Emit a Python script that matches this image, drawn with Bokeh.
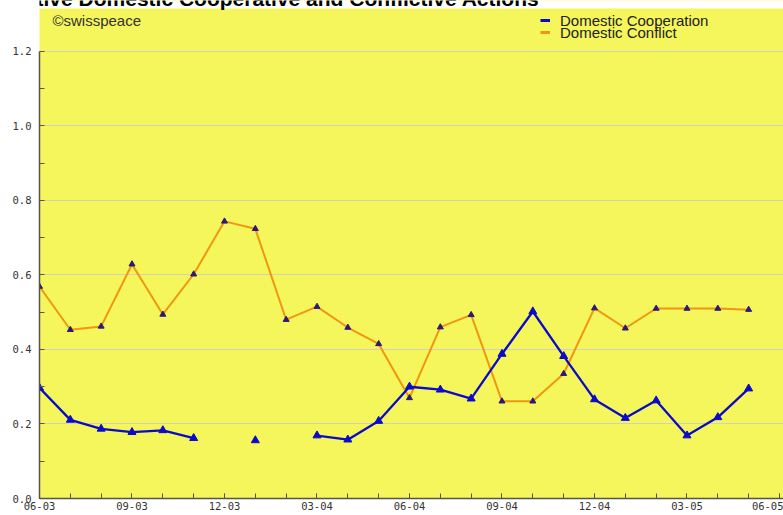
import numpy as np
from bokeh.plotting import figure
from bokeh.models import (Range1d, FixedTicker, Label, Legend, LegendItem,
                          ColumnDataSource, BoxAnnotation)
from bokeh.embed import file_html
from bokeh.resources import INLINE

# ---------------- data ----------------
title_text = "Relative Domestic Cooperative and Conflictive Actions"
months = ["06-03", "07-03", "08-03", "09-03", "10-03", "11-03", "12-03",
          "01-04", "02-04", "03-04", "04-04", "05-04", "06-04", "07-04",
          "08-04", "09-04", "10-04", "11-04", "12-04", "01-05", "02-05",
          "03-05", "04-05", "05-05"]
cooperation = [0.297, 0.211, 0.187, 0.178, 0.183, 0.162, None, 0.156, None,
               0.169, 0.158, 0.208, 0.300, 0.292, 0.268, 0.388, 0.502, 0.382,
               0.266, 0.216, 0.263, 0.169, 0.218, 0.295]
conflict = [0.569, 0.453, 0.462, 0.629, 0.494, 0.602, 0.744, 0.724, 0.480,
            0.515, 0.459, 0.415, 0.270, 0.460, 0.493, 0.261, 0.261, 0.335,
            0.511, 0.457, 0.510, 0.510, 0.510, 0.507]
tick_labels = ["06-03", "09-03", "12-03", "03-04", "06-04", "09-04",
               "12-04", "03-05", "06-05"]
y_ticks = [0.0, 0.2, 0.4, 0.6, 0.8, 1.0, 1.2]
y_minor = [0.1, 0.3, 0.5, 0.7, 0.9, 1.1]
series_names = ["Domestic Cooperation", "Domestic Conflict"]
credit = "\u00a9swisspeace"

# ---------------- styles ----------------
YELLOW = "#f5f55c"
BLUE = "#0a0ac8"
ORANGE = "#f0960f"
MARK2 = "#2c1878"
AXIS = "#55554a"
LABEL = "#333333"

x = np.arange(len(months))
coop = np.array([np.nan if v is None else v for v in cooperation], dtype=float)
conf = np.array(conflict, dtype=float)
src = ColumnDataSource(dict(x=x, coop=coop, conf=conf, m=months))

# frame runs to the top edge; a white strip restores the white band above
# the yellow area, so the cut-off title can be drawn there
p = figure(width=783, height=515, output_backend="svg", toolbar_location=None,
           x_range=Range1d(0, 24.13), y_range=Range1d(0, 1.3369),
           min_border_left=39, min_border_right=0, min_border_top=0,
           min_border_bottom=17)
p.background_fill_color = YELLOW
p.border_fill_color = "white"
p.outline_line_color = None

# axes
q_idx = list(range(0, 3 * len(tick_labels), 3))
p.xaxis.ticker = FixedTicker(ticks=q_idx, minor_ticks=list(range(0, 25)))
p.xaxis.major_label_overrides = {i: t for i, t in zip(q_idx, tick_labels)}
p.yaxis.ticker = FixedTicker(ticks=y_ticks, minor_ticks=y_minor)
p.yaxis.major_label_overrides = {v: f"{v:.1f}" for v in y_ticks}
p.yaxis.bounds = (0, 1.2)
for ax in (p.xaxis[0], p.yaxis[0]):
    ax.axis_line_color = AXIS
    ax.axis_line_width = 1.5
    ax.major_tick_line_color = AXIS
    ax.minor_tick_line_color = AXIS
    ax.major_tick_in = 5
    ax.major_tick_out = 0
    ax.minor_tick_in = 5
    ax.minor_tick_out = 0
    ax.major_label_text_font = "DejaVu Sans Mono"
    ax.major_label_text_font_size = "10.5px"
    ax.major_label_text_color = LABEL
p.xaxis.major_label_standoff = 3
p.yaxis.major_label_standoff = 8

p.xgrid.visible = False
p.ygrid.ticker = FixedTicker(ticks=y_ticks[1:])
p.ygrid.grid_line_color = "#d2d2bc"
p.ygrid.grid_line_width = 1

# white band above the yellow plotting area
p.add_layout(BoxAnnotation(bottom=1.3154, top=1.4, left=-1, right=26,
                           fill_color="white", fill_alpha=1.0,
                           line_color=None))

# series
p.line("x", "conf", source=src, line_color=ORANGE, line_width=2)
p.line("x", "coop", source=src, line_color=BLUE, line_width=2.3)
p.scatter("x", "conf", source=src, marker="triangle", size=6,
          fill_color=MARK2, line_color=MARK2)
p.scatter("x", "coop", source=src, marker="triangle", size=8,
          fill_color=BLUE, line_color=BLUE)

# legend (short thick dashes) -- one legend per row for tight line spacing
lg1 = p.line([np.nan], [np.nan], line_color=BLUE, line_width=3)
lg2 = p.line([np.nan], [np.nan], line_color=ORANGE, line_width=3)
for lab, rend, loc in ((series_names[0], lg1, (501, 469.5)),
                       (series_names[1], lg2, (501, 457.5))):
    leg = Legend(items=[LegendItem(label=lab, renderers=[rend])],
                 location=loc, orientation="vertical",
                 glyph_width=10, glyph_height=12, label_height=12,
                 label_standoff=10, spacing=0, padding=0, margin=0,
                 label_text_font="Liberation Sans", label_text_font_size="15px",
                 label_text_color="#222222",
                 background_fill_alpha=0, border_line_color=None)
    p.add_layout(leg)

# credit text and (cut-off) title
p.add_layout(Label(x=0.42, y=1.283, text=credit, text_font="Liberation Sans",
                   text_font_size="15px", text_color=LABEL,
                   text_baseline="middle"))
p.add_layout(Label(x=7.34, y=1.341, text=title_text, text_font="Liberation Sans",
                   text_font_style="bold", text_font_size="21px",
                   text_color="black", text_align="center",
                   text_baseline="alphabetic"))

open("out.html", "w").write(file_html(p, INLINE))
